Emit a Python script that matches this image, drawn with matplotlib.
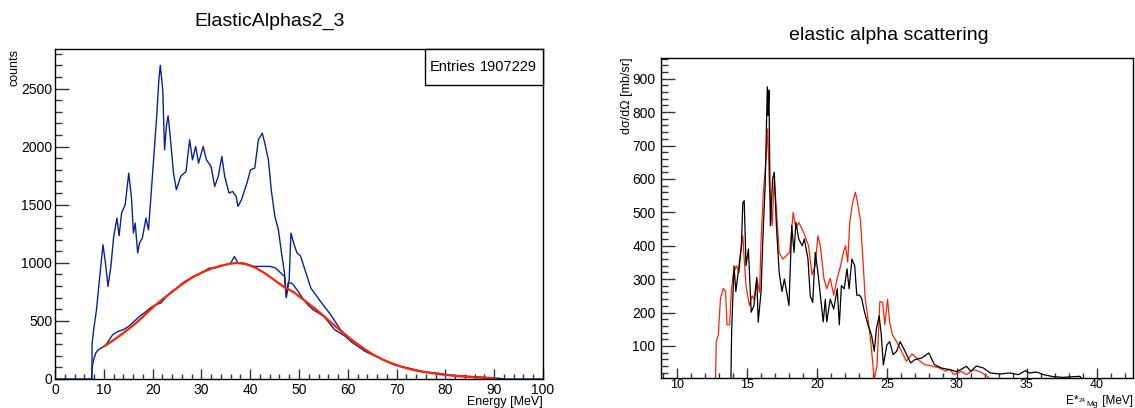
import matplotlib
matplotlib.use("Agg")
import matplotlib.pyplot as plt
from matplotlib.ticker import MultipleLocator

plt.rcParams['font.family'] = ['Liberation Sans', 'DejaVu Sans']

# ---------------- left panel data ----------------
upper_E = [7.0, 7.56, 7.6, 7.92, 8.51, 9.10, 9.83, 10.34, 10.86, 11.45, 12.03, 12.69, 13.13, 13.65,
           14.38, 15.11, 15.70, 16.07, 16.43, 16.95, 17.31, 17.90, 18.64, 19.15, 19.66, 20.25, 20.84,
           21.28, 21.57, 22.08, 22.45, 22.82, 23.18, 23.55, 24.28, 24.87, 25.75, 26.85, 27.59, 28.17,
           28.83, 29.42, 30.37, 31.03, 31.99, 32.72, 33.46, 34.19, 34.78, 35.66, 36.39, 37.12, 37.49,
           38.22, 39.32, 40.06, 40.94, 41.67, 42.48, 42.99, 43.73, 44.31, 45.05, 45.78, 46.51, 47.03,
           47.40, 47.98, 48.35, 49.01, 49.60, 50.30, 51.0, 52.4, 54.4, 56.5, 58.5, 59.5]
upper_counts = [0, 0, 300, 424, 596, 854, 1155, 998, 797, 969, 1227, 1385, 1233, 1428,
                1500, 1772, 1542, 1256, 1342, 1084, 1170, 1213, 1385, 1284, 1571, 1915, 2259,
                2574, 2700, 2489, 1972, 2173, 2265, 2116, 1772, 1628, 1743, 1786, 2058, 1886,
                2001, 1858, 2001, 1886, 1829, 1657, 1743, 1915, 1743, 1600, 1614, 1571, 1485,
                1542, 1685, 1800, 1815, 2058, 2116, 2030, 1886, 1628, 1399, 1284, 1055, 912,
                711, 854, 1256, 1155, 1084, 1060, 969, 785, 668, 553, 424, 380]

lower_E = [0, 7.5, 7.6, 7.92, 8.36, 8.88, 9.46, 10.12, 10.71, 11.81, 12.91, 14.01, 15.11, 16.21,
           17.31, 18.42, 19.52, 20.62, 21.72, 22.82, 23.92, 25.02, 26.12, 27.22, 28.32, 29.42,
           30.52, 31.62, 32.72, 33.82, 34.92, 36.02, 36.76, 37.49, 38.59, 39.69, 40.79, 41.89,
           42.99, 44.09, 45.19, 46.29, 47.03, 47.4, 47.76, 48.50, 49.60, 50.70, 51.80, 52.90,
           54.00, 55.10, 56.20, 57.30, 58.40, 59.50, 60.60, 62.07, 63.54, 65.00, 66.47, 67.94,
           69.40, 70.87, 72.34, 73.81, 75.27, 76.74, 78.21, 80.41, 82.61, 84.81, 87.01, 89.21,
           91.05, 92.15, 100]
lower_counts = [0, 0, 100, 166, 224, 252, 267, 281, 310, 381, 410, 424, 453, 496,
                539, 573, 611, 639, 654, 711, 754, 783, 826, 854, 883, 897,
                926, 955, 955, 969, 983, 998, 1055, 998, 998, 983, 969, 969,
                969, 969, 955, 912, 883, 700, 826, 826, 768, 697, 639, 596,
                568, 539, 482, 424, 396, 367, 324, 281, 238, 209, 181, 152,
                123, 109, 95, 80, 66, 57, 52, 37, 29, 23, 17, 11,
                6, 0, 0]

fit_E = [10.2, 12, 14, 16, 18, 20, 22, 24, 26, 28, 30, 32, 34, 36, 37.3, 39, 41, 43, 45, 47, 49,
         51, 53, 55, 57, 59, 61, 63, 65, 67, 69, 71, 73, 75, 77, 79, 81, 83, 85, 87, 89, 90]
fit_counts = [285, 335, 395, 460, 535, 615, 685, 750, 815, 870, 915, 950, 975, 993, 998, 990, 960,
              910, 850, 790, 745, 680, 615, 545, 470, 400, 330, 270, 215, 170, 135, 105, 82, 64,
              52, 40, 31, 23, 17, 12, 8, 6]

entries_label = "Entries"
entries_value = "1907229"

# ---------------- right panel data ----------------
black_E = [13.85, 13.9, 14.07, 14.2, 14.4, 14.6, 14.7, 14.8, 14.93, 15.1, 15.3, 15.5, 15.7, 15.8,
           16.0, 16.17, 16.3, 16.45, 16.5, 16.57, 16.67, 16.83, 16.95, 17.1, 17.3, 17.5, 17.67,
           17.8, 18.0, 18.2, 18.36, 18.5, 18.7, 18.95, 19.1, 19.36, 19.52, 19.7, 19.88, 20.07,
           20.3, 20.45, 20.6, 20.7, 20.95, 21.2, 21.45, 21.6, 21.75, 21.95, 22.15, 22.3, 22.5,
           22.7, 22.85, 23.05, 23.2, 23.4, 23.65, 23.9, 24.1, 24.25, 24.45, 24.6, 24.75, 25.0,
           25.2, 25.45, 25.7, 25.95, 26.3, 26.7, 27.0, 27.5, 28.0, 28.4, 28.9, 29.5, 30.0, 30.7,
           31.0, 31.4, 31.9, 32.4, 33.1, 33.8, 34.4, 34.9, 35.2, 35.7, 36.2, 36.9, 37.6, 38.4,
           38.8, 39.0]
black_val = [0, 143, 340, 263, 330, 400, 528, 535, 340, 390, 201, 221, 305, 171,
             260, 460, 580, 876, 790, 866, 460, 600, 620, 460, 320, 263, 300,
             270, 221, 460, 380, 470, 420, 400, 420, 360, 250, 230, 380, 320,
             230, 172, 240, 172, 240, 210, 271, 163, 281, 271, 331, 271, 360,
             340, 252, 252, 242, 202, 163, 133, 84, 152, 190, 133, 43, 103,
             113, 74, 84, 113, 84, 49, 59, 64, 79, 44, 34, 29, 23, 39,
             24, 40, 34, 19, 16, 19, 14, 26, 19, 22, 14, 8, 6, 8,
             9, 0]

red_E = [12.75, 12.8, 12.95, 13.1, 13.3, 13.47, 13.57, 13.76, 13.88, 14.0, 14.24, 14.43, 14.6,
         14.7, 14.8, 14.93, 15.17, 15.36, 15.5, 15.7, 15.9, 16.0, 16.17, 16.36, 16.48, 16.6,
         16.8, 16.95, 17.1, 17.3, 17.55, 17.8, 18.05, 18.3, 18.5, 18.7, 19.05, 19.4, 19.65,
         19.88, 20.07, 20.24, 20.5, 20.7, 20.95, 21.2, 21.45, 21.7, 21.9, 22.05, 22.2, 22.35,
         22.55, 22.75, 22.9, 23.1, 23.3, 23.45, 23.65, 23.85, 24.0, 24.1, 24.3, 24.5, 24.7,
         24.85, 25.05, 25.2, 25.4, 25.7, 26.05, 26.4, 26.8, 27.25, 27.7, 28.2, 28.7, 29.2,
         29.5, 29.8, 30.3, 30.7, 31.2, 31.7, 32.2, 32.4]
red_val = [0, 113, 133, 242, 272, 263, 163, 163, 263, 313, 340, 320, 400,
           430, 360, 280, 221, 250, 240, 300, 260, 410, 560, 660, 750, 580,
           460, 600, 510, 380, 360, 370, 380, 500, 450, 470, 440, 400, 313,
           340, 430, 400, 302, 271, 302, 252, 302, 341, 381, 400, 351, 470,
           530, 560, 530, 480, 351, 242, 182, 113, 43, 0, 43, 233, 230,
           163, 240, 170, 133, 113, 84, 54, 76, 59, 44, 40, 35, 25,
           30, 14, 24, 14, 29, 22, 9, 0]

# x-title of the right panel, in pieces: (text, fontsize, baseline offset in px)
right_xtitle_parts = [("E*", 8.5, 0), ("24", 4.5, -2), ("Mg", 6, 2), (" [MeV]", 8.5, 0)]

W, H = 1135, 408
fig = plt.figure(figsize=(W / 100, H / 100), dpi=100)
TICK_FS = 10


def frac_rect(x0, y0, x1, y1):
    return [x0 / W, 1 - y1 / H, (x1 - x0) / W, (y1 - y0) / H]


def root_style(ax, xlen_major, ylen_major):
    ax.tick_params(axis='both', which='both', direction='in', top=False, right=False,
                   labelsize=TICK_FS, width=1.0, color='#333333')
    ax.tick_params(axis='x', which='major', length=xlen_major * 0.72, pad=3)
    ax.tick_params(axis='x', which='minor', length=xlen_major * 0.36)
    ax.tick_params(axis='y', which='major', length=ylen_major * 0.72, pad=2)
    ax.tick_params(axis='y', which='minor', length=ylen_major * 0.36)
    for s in ax.spines.values():
        s.set_linewidth(1.0)
        s.set_color('black')


# ---------------- left ----------------
ax1 = fig.add_axes(frac_rect(55, 49, 543, 379))
ax1.plot(lower_E, lower_counts, color='#0b2199', lw=1.0)
ax1.plot(upper_E, upper_counts, color='#0b2199', lw=1.0)
ax1.plot(fit_E, fit_counts, color='#ff2200', lw=1.6)
ax1.set_xlim(0, 100)
ax1.set_ylim(0, 2840)
ax1.xaxis.set_major_locator(MultipleLocator(10))
ax1.xaxis.set_minor_locator(MultipleLocator(2))
ax1.yaxis.set_major_locator(MultipleLocator(500))
ax1.yaxis.set_minor_locator(MultipleLocator(100))
root_style(ax1, 10, 14)

fig.text(270 / W, 1 - 21 / H, "ElasticAlphas2_3", ha='center', va='center', fontsize=14)
fig.text(15 / W, 1 - 49 / H, "counts", rotation=90, ha='center', va='top', fontsize=9)
fig.text(543 / W, 1 - 402 / H, "Energy [MeV]", ha='right', va='center', fontsize=9)

ax1.add_patch(plt.Rectangle(((425 - 55) / 488, (379 - 85) / 330), (543 - 425) / 488, 36 / 330,
                            transform=ax1.transAxes, facecolor='white', edgecolor='black',
                            lw=1.0, zorder=5, clip_on=False))
ax1.text((430 - 55) / 488, (379 - 67) / 330, entries_label, transform=ax1.transAxes,
         ha='left', va='center', fontsize=10.5, zorder=6)
ax1.text((537 - 55) / 488, (379 - 67) / 330, entries_value, transform=ax1.transAxes,
         ha='right', va='center', fontsize=10.5, zorder=6)

# ---------------- right ----------------
ax2 = fig.add_axes(frac_rect(661, 58, 1133, 378))
ax2.plot(red_E, red_val, color='#ff2200', lw=0.9)
ax2.plot(black_E, black_val, color='black', lw=0.9)
ax2.set_xlim(8.85, 42.6)
ax2.set_ylim(4, 962)
ax2.xaxis.set_major_locator(MultipleLocator(5))
ax2.xaxis.set_minor_locator(MultipleLocator(1))
ax2.yaxis.set_minor_locator(MultipleLocator(20))
ax2.set_yticks([100, 200, 300, 400, 500, 600, 700, 800, 900])
root_style(ax2, 10, 14)
ax2.tick_params(axis='y', which='major', pad=4)
ax2.tick_params(axis='x', which='major', labelsize=9, pad=0.5)

fig.text(627 / W, 1 - 58 / H, "dσ/dΩ [mb/sr]", rotation=90, ha='center', va='top', fontsize=9)
fig.text(889 / W, 1 - 35 / H, "elastic alpha scattering", ha='center', va='center', fontsize=14)

# compose the right x-title from the right edge leftwards
renderer = fig.canvas.get_renderer()
x_right = 1133.0
base = 404.0
for txt, fs, dy in reversed(right_xtitle_parts):
    t = fig.text(x_right / W, 1 - (base + dy) / H, txt, ha='right', va='baseline', fontsize=fs)
    x_right -= t.get_window_extent(renderer).width + 0.6

fig.savefig("out.png", dpi=100)
